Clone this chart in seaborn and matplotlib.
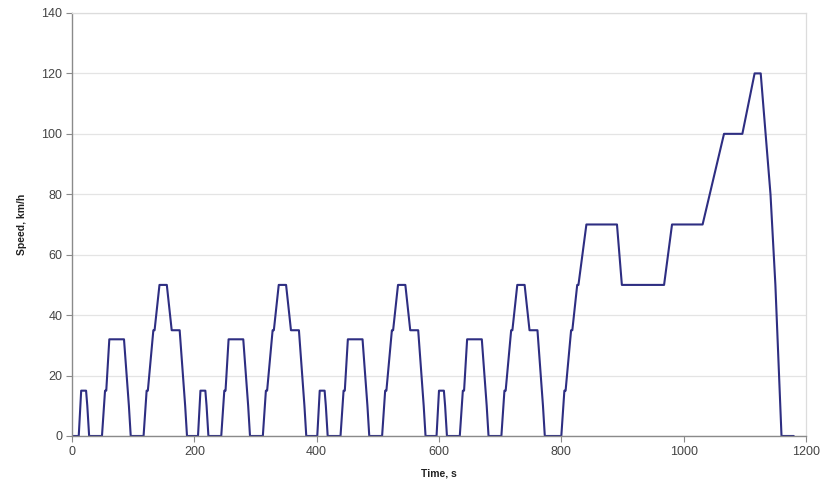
import numpy as np
import pandas as pd
import matplotlib
matplotlib.use("Agg")
import matplotlib.pyplot as plt
import seaborn as sns

# ECE-15 urban cycle breakpoints (s, km/h), repeated 4 times
ece_time = [0, 11, 15, 23, 25, 28, 49, 54, 56, 61, 85, 93, 96, 117, 122, 124,
            133, 135, 143, 155, 163, 176, 185, 188, 195]
ece_speed = [0, 0, 15, 15, 10, 0, 0, 15, 15, 32, 32, 10, 0, 0, 15, 15,
             35, 35, 50, 50, 35, 35, 10, 0, 0]
ece_repeats = 4
ece_length = 195

# Extra-urban cycle breakpoints (s after start of EUDC, km/h)
eudc_time = [0, 20, 25, 27, 36, 38, 46, 48, 61, 111, 119, 188, 201, 251,
             286, 316, 336, 346, 362, 370, 380, 400]
eudc_speed = [0, 0, 15, 15, 35, 35, 50, 50, 70, 70, 50, 50, 70, 70,
              100, 100, 120, 120, 80, 50, 0, 0]

t, v = [], []
for k in range(ece_repeats):
    t += [x + k * ece_length for x in ece_time]
    v += list(ece_speed)
t += [x + ece_repeats * ece_length for x in eudc_time]
v += list(eudc_speed)
df = pd.DataFrame({"Time, s": t, "Speed, km/h": v})

sns.set_theme(style="white")
plt.rcParams["font.family"] = ["Liberation Sans", "DejaVu Sans"]

fig = plt.figure(figsize=(8.22, 4.86), dpi=100)
ax = fig.add_axes([0.0876, 0.1029, 0.8929, 0.8704])

sns.lineplot(data=df, x="Time, s", y="Speed, km/h", ax=ax,
             color="#2e2e82", linewidth=1.5, estimator=None, sort=False)

ax.set_xlim(0, 1200)
ax.set_ylim(0, 140)
ax.set_xticks(range(0, 1201, 200))
ax.set_yticks(range(0, 141, 20))
ax.yaxis.grid(True, color="#e4e4e4", linewidth=0.9)
ax.xaxis.grid(False)
ax.set_axisbelow(True)

for s in ["left", "bottom"]:
    ax.spines[s].set_color("#8a8a8a")
    ax.spines[s].set_linewidth(1.0)
for s in ["right", "top"]:
    ax.spines[s].set_color("#dcdcdc")
    ax.spines[s].set_linewidth(0.9)

ax.tick_params(axis="both", which="both", direction="out", length=4,
               width=0.8, color="#8a8a8a", labelsize=9, labelcolor="#444444",
               bottom=True, left=True, pad=3)
ax.set_xlabel("Time, s", fontsize=7.5, fontweight="bold", color="#222222", labelpad=8)
ax.set_ylabel("Speed, km/h", fontsize=7.5, fontweight="bold", color="#222222", labelpad=10)

fig.savefig("out.png", dpi=100)
